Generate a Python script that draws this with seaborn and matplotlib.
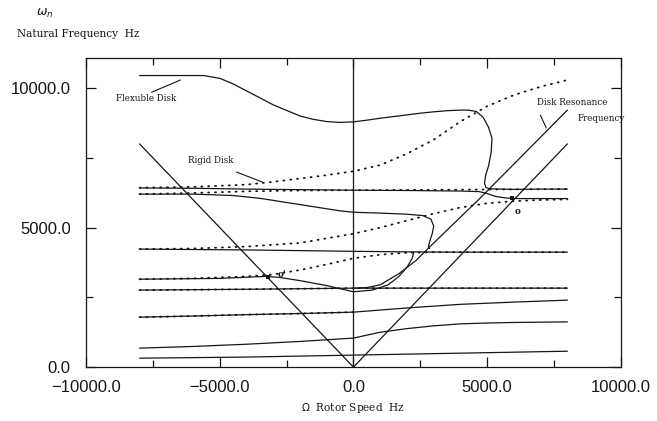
import numpy as np
import matplotlib
matplotlib.use("Agg")
import matplotlib.pyplot as plt
import seaborn as sns

# ---- data (rotor speed Hz -> natural frequency Hz) ----
# flexible disk (solid)
top_x = [-8000, -6500, -5600, -5000, -4500, -4000, -3500, -3000, -2500, -2000, -1500, -1000, -500, 0,
         500, 1000, 1500, 2000, 2500, 3000, 3500, 4000, 4300, 4600, 4850, 5050, 5180, 5150, 5050, 4950,
         4900, 4950, 5100, 6000, 7000, 8000]
top_y = [10450, 10450, 10450, 10350, 10150, 9900, 9650, 9400, 9200, 9000, 8880, 8800, 8770, 8790,
         8850, 8920, 8980, 9040, 9100, 9150, 9190, 9210, 9210, 9160, 8950, 8600, 8200, 7700, 7200, 6900,
         6600, 6440, 6390, 6370, 6380, 6380]

upper_x = [-8000, -6000, -4000, -2000, 0, 2000, 4000, 4700, 5000, 5300, 5700, 6200, 8000]
upper_y = [6420, 6410, 6380, 6360, 6340, 6330, 6310, 6290, 6220, 6120, 6060, 6040, 6040]

dip_x = [-8000, -6000, -4500, -3500, -2500, -1500, -500, 0, 1000, 2000, 2600, 2900, 3000, 2950, 2850, 2800, 2850]
dip_y = [6200, 6200, 6150, 6050, 5900, 5750, 5600, 5550, 5520, 5480, 5430, 5300, 5050, 4800, 4500, 4300, 4250]

resonance_x = [0, 500, 1000, 1700, 2350, 2840, 4700, 8000]
resonance_y = [2830, 2850, 2950, 3350, 3830, 4300, 6020, 9210]

mid_x = [-8000, -4000, 0, 2000, 4000, 8000]
mid_y = [4230, 4200, 4150, 4130, 4120, 4120]

loop_x = [-8000, -5000, -3300, -2800, -2000, -1000, 0, 700, 1300, 1700, 2000, 2200, 2250]
loop_y = [3150, 3180, 3250, 3220, 3100, 2920, 2700, 2760, 2950, 3250, 3580, 3900, 4100]

m2800_x = [-8000, -4000, 0, 4000, 8000]
m2800_y = [2760, 2790, 2830, 2830, 2830]

m1800_x = [-8000, -6000, -4000, -2000, 0, 2000, 4000, 6000, 8000]
m1800_y = [1790, 1830, 1880, 1920, 1970, 2120, 2250, 2330, 2400]

m700_x = [-8000, -6000, -4000, -2000, 0, 1000, 2000, 3000, 4000, 5000, 6000, 8000]
m700_y = [680, 740, 820, 920, 1040, 1250, 1380, 1480, 1550, 1580, 1600, 1620]

m300_x = [-8000, -4000, 0, 4000, 8000]
m300_y = [320, 360, 430, 500, 570]

# excitation lines (rotor speed)
v_left_x = [-8000, 0]
v_left_y = [8000, 0]
v_right_x = [0, 8000]
v_right_y = [0, 8000]

# rigid disk (dotted)
r1_x = [-8000, -6000, -4000, -3000, -2000, -1000, 0, 1000, 2000, 3000, 4000, 5000, 6000, 7000, 8000]
r1_y = [6430, 6460, 6540, 6640, 6760, 6880, 7020, 7240, 7650, 8150, 8800, 9350, 9750, 10050, 10290]

r2_x = [-8000, -6000, -4000, -2000, 0, 4000, 8000]
r2_y = [6200, 6240, 6300, 6330, 6340, 6360, 6380]

r3_x = [-8000, -6000, -4000, -2000, 0, 1000, 2000, 3000, 4000, 5000, 6000, 7000, 8000]
r3_y = [4230, 4250, 4320, 4450, 4780, 5000, 5250, 5500, 5720, 5870, 5950, 5990, 6010]

r4_x = [-8000, -6000, -4000, -3000, -2000, -1000, 0, 1000, 2000, 3000, 4000, 8000]
r4_y = [3150, 3180, 3250, 3320, 3480, 3680, 3900, 4030, 4100, 4120, 4120, 4120]

solid_curves = [(top_x, top_y), (upper_x, upper_y), (dip_x, dip_y), (resonance_x, resonance_y),
                (mid_x, mid_y), (loop_x, loop_y), (m2800_x, m2800_y), (m1800_x, m1800_y),
                (m700_x, m700_y), (m300_x, m300_y), (v_left_x, v_left_y), (v_right_x, v_right_y)]
dotted_curves = [(r1_x, r1_y), (r2_x, r2_y), (r3_x, r3_y), (r4_x, r4_y),
                 (m2800_x, m2800_y), (m1800_x[:5], m1800_y[:5])]

# crossing points
pts_x = [5940, -3210]
pts_y = [6060, 3230]

sns.set_style("ticks")
plt.rcParams['font.family'] = ['Liberation Sans', 'DejaVu Sans']

fig = plt.figure(figsize=(6.57, 4.21), dpi=100)
ax = fig.add_axes([0.131, 0.128, 0.814, 0.734])

ink = "#161616"
for cx, cy in solid_curves:
    sns.lineplot(x=cx, y=cy, ax=ax, sort=False, estimator=None, color=ink, lw=0.9)
for cx, cy in dotted_curves:
    sns.lineplot(x=cx, y=cy, ax=ax, sort=False, estimator=None, color=ink, lw=1.3,
                 linestyle=(0, (0.6, 3.2)), dash_capstyle="round")
ax.axvline(0, color=ink, lw=0.9)
sns.scatterplot(x=pts_x, y=pts_y, ax=ax, color=ink, s=12, marker="s", linewidth=0)

ax.set_xlim(-10000, 10000)
ax.set_ylim(0, 11075)
ax.set_xticks([-10000, -5000, 0, 5000, 10000])
ax.set_xticks([-7500, -2500, 2500, 7500], minor=True)
ax.set_yticks([0, 5000, 10000])
ax.set_yticks([2500, 7500], minor=True)
ax.xaxis.set_major_formatter(matplotlib.ticker.StrMethodFormatter("{x:.1f}"))
ax.yaxis.set_major_formatter(matplotlib.ticker.StrMethodFormatter("{x:.1f}"))
ax.tick_params(which="both", direction="in", top=True, right=True, color=ink, width=0.9)
ax.tick_params(which="major", length=7, labelsize=12, labelcolor=ink)
ax.tick_params(axis="x", which="major", pad=9)
ax.tick_params(axis="y", which="major", pad=11)
ax.tick_params(which="minor", length=5)
for s in ax.spines.values():
    s.set_color(ink)
    s.set_linewidth(0.9)

serif = ["DejaVu Serif"]
ann = dict(family=serif, fontsize=6.3, color=ink)
ax.text(-7740, 9640, "Flexuble Disk", ha="center", va="center", **ann)
ax.plot([-7550, -6470], [9850, 10290], color=ink, lw=0.8)
ax.text(-5350, 7420, "Rigid Disk", ha="center", va="center", **ann)
ax.plot([-4370, -3400], [6990, 6630], color=ink, lw=0.8)
ax.text(8190, 9500, "Disk Resonance", ha="center", va="center", **ann)
ax.text(9270, 8920, "Frequency", ha="center", va="center", **ann)
ax.plot([6990, 7210], [9030, 8570], color=ink, lw=0.8)
ax.text(6130, 5560, "o", ha="center", va="center", fontweight="bold", **ann)
ax.text(-2690, 3330, "o'", ha="center", va="center", fontweight="bold", **ann)

fig.text(45 / 657, 1 - 13 / 421, r"$\omega_n$", fontsize=9, color=ink, ha="center", va="center")
fig.text(17 / 657, 1 - 34 / 421, "Natural Frequency  Hz", family=serif, fontsize=7.6,
         color=ink, ha="left", va="center")
fig.text(353 / 657, 1 - 408 / 421, r"$\Omega$  Rotor Speed  Hz", family=serif, fontsize=7.6,
         color=ink, ha="center", va="center")

fig.savefig("out.png", dpi=100)
